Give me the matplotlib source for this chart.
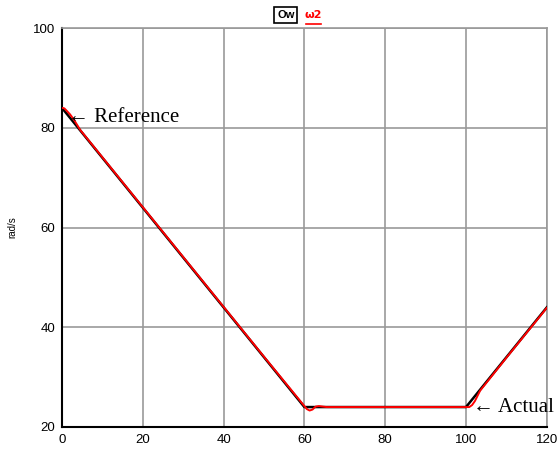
import matplotlib.pyplot as plt

# reference speed profile (black)
t_ref = [0, 60, 100, 120]
w_ref = [84, 24, 24, 44]

# measured speed (red)
t_act = [0, 0.6, 1.2, 2.0, 3.0, 4.5, 10, 30, 50, 60, 60.6, 61.3, 62, 62.8, 63.6, 64.5, 65.5, 67, 70, 75, 80, 90,
         100, 100.8, 101.5, 102.2, 103.5, 110, 115, 120]
w_act = [84, 83.9, 83.4, 82.7, 81.6, 79.6, 74.1, 54.1, 34.1, 24.2, 23.6, 23.3, 23.5, 24.1, 24.2, 24.1, 24.0, 24.0,
         24.0, 24.0, 24.0, 24.0, 24.0, 24.0, 24.4, 25.2, 27.3, 33.9, 38.9, 43.9]

xticks = [0, 20, 40, 60, 80, 100, 120]
yticks = [20, 40, 60, 80, 100]

fig = plt.figure(figsize=(5.58, 4.53), dpi=100)
ax = fig.add_axes([0.111, 0.0574, 0.869, 0.8806])

ax.plot(t_ref, w_ref, color='black', lw=1.8, zorder=3)
ax.plot(t_act, w_act, color='red', lw=1.4, zorder=4)

ax.set_xlim(0, 120)
ax.set_ylim(20, 100)
ax.set_xticks(xticks)
ax.set_yticks(yticks)
ax.grid(True, color='#999999', lw=1.2)
ax.tick_params(length=0, pad=5, labelsize=9.5)
for lab in ax.get_xticklabels() + ax.get_yticklabels():
    lab.set_fontfamily('Liberation Sans')

ax.spines['left'].set_color('black')
ax.spines['bottom'].set_color('black')
ax.spines['left'].set_linewidth(1.5)
ax.spines['bottom'].set_linewidth(1.5)
for s in ['top', 'right']:
    ax.spines[s].set_color('#999999')
    ax.spines[s].set_linewidth(1.2)

ax.set_ylabel('rad/s', fontsize=7, family='Liberation Sans')
ax.yaxis.set_label_coords(-0.092, 0.5)

serif = ['Liberation Serif', 'DejaVu Serif']
ax.text(1.5, 82.0, '\u2190 Reference', fontsize=15, family=serif, va='center', ha='left', zorder=5)
ax.text(101.7, 24.0, '\u2190 Actual', fontsize=15, family=serif, va='center', ha='left', zorder=5)

# legend strip at the top
fig.text(0.512, 0.967, 'Ow', fontsize=8, fontweight='bold', family='Liberation Sans', ha='center', va='center',
         bbox=dict(boxstyle='square,pad=0.25', fc='white', ec='black', lw=1.2))
fig.text(0.562, 0.967, '\u03c92', fontsize=8, fontweight='bold', color='red', family='DejaVu Sans',
         ha='center', va='center')
fig.add_artist(plt.Line2D([0.548, 0.576], [0.948, 0.948], color='red', lw=1.2))

fig.savefig('out.png', dpi=100)
